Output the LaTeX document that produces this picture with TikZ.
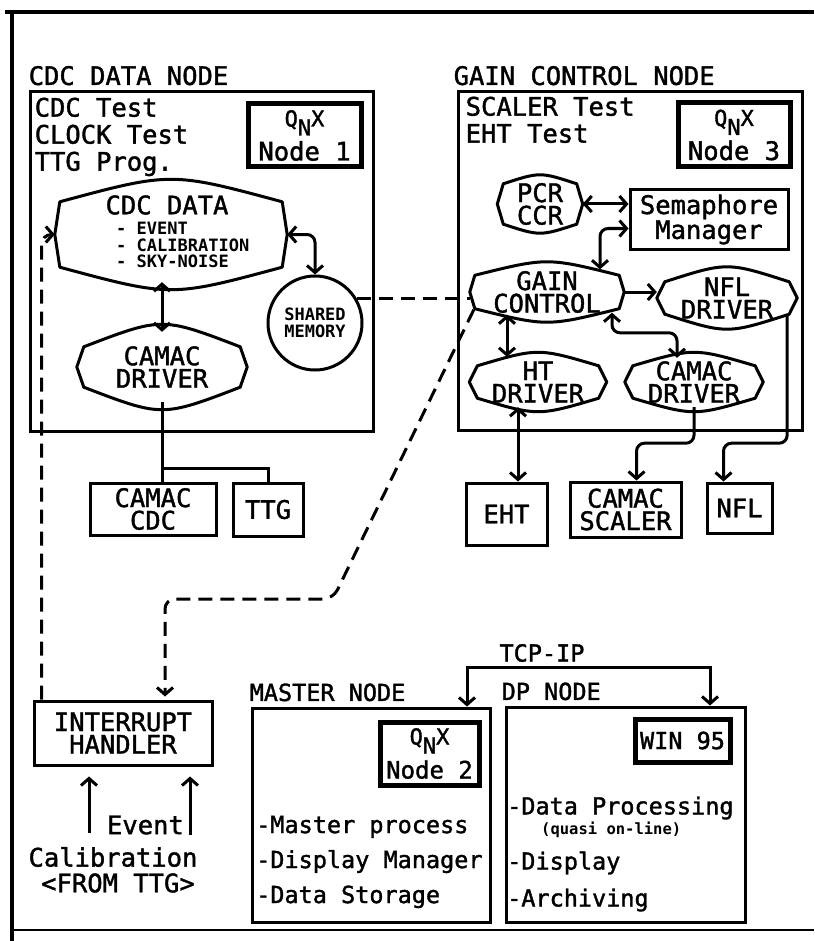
\documentclass[tikz,border=0pt]{standalone}
\usepackage{fontspec}
\newfontfamily\plotfont[FakeBold=1.5]{DejaVu Sans Mono}
\newfontfamily\plotbold{DejaVu Sans Mono Bold}
\usetikzlibrary{positioning,arrows.meta,calc}

\newcommand{\bigtxt}{\plotfont\fontsize{25.5}{27}\selectfont}
\newcommand{\drvtxt}{\plotfont\fontsize{25.5}{22.5}\selectfont}
\newcommand{\lsttxt}{\plotfont\fontsize{23.5}{35}\selectfont}
\newcommand{\tinytxt}{\plotbold\fontsize{17}{16.5}\selectfont}
\newcommand{\qnxtxt}{\plotfont\fontsize{25.5}{28}\selectfont}
\newcommand{\qnx}[1]{{\fontsize{22}{22}\selectfont Q\smash{\raisebox{-9pt}{N}}X}\\[6pt]Node #1}
% outline of a driver/process node: name, sag of top/bottom, side inset
\newcommand{\drvline}[3]{%
  \draw[outl] ($(#1.north west)+(#3,#2)$) .. controls ($(#1.north)+(0,-#2)$) .. ($(#1.north east)+(-#3,#2)$)
    -- (#1.east) -- ($(#1.south east)+(-#3,-#2)$)
    .. controls ($(#1.south)+(0,#2)$) .. ($(#1.south west)+(#3,-#2)$)
    -- (#1.west) -- cycle;}

\tikzset{
  box/.style    = {draw, line width=3pt, align=center, inner sep=0pt, font=\drvtxt},
  osbox/.style  = {draw, line width=5pt, align=center, inner sep=0pt, font=\qnxtxt},
  area/.style   = {draw, line width=3pt, inner sep=0pt},
  drv/.style    = {align=center, inner sep=0pt, font=\drvtxt},
  ttl/.style    = {inner sep=0pt, font=\bigtxt},
  lst/.style    = {anchor=west, align=left, inner sep=0pt},
  outl/.style   = {line width=3pt, line join=round},
  link/.style   = {line width=3pt},
  dlink/.style  = {link, {Straight Barb[length=7pt,width=16pt]}-{Straight Barb[length=7pt,width=16pt]}},
  slink/.style  = {link, -{Straight Barb[length=7pt,width=16pt]}},
  dsh/.style    = {link, dash pattern=on 14pt off 8pt},
  framebar/.style = {line width=4.5pt},
}

\begin{document}
\begin{tikzpicture}[x=1pt,y=-1pt]
  \useasboundingbox (0,0) rectangle (814,941);
  \fill[white] (0,0) rectangle (814,941);

  % outer frame
  \draw[framebar] (5,12) -- (814,12);
  \draw[framebar] (12,12) -- (12,941);
  \draw[line width=2pt] (12,930) -- (814,930);

  % CDC data node
  \node[area, minimum width=343pt, minimum height=339pt] (cdcnode) at (201.5,261.5) {};
  \node[ttl, above right=5pt and 0pt of cdcnode.north west] (cdcttl) {CDC DATA NODE};
  \node[lst, font=\bigtxt, below right=7pt and 6pt of cdcnode.north west] (cdctests) {CDC Test\\CLOCK Test\\TTG Prog.};
  \node[osbox, minimum width=113pt, minimum height=63pt] (qnx1) at (304.5,135.5) {\qnx{1}};
  \node[drv, minimum width=232pt, minimum height=95pt] (cdcdata) at (171,234.5) {};
  \node[ttl] (cdcdatattl) at (167,205) {CDC DATA};
  \node[lst, font=\tinytxt] (cdcevents) at (116,245) {- EVENT\\- CALIBRATION\\- SKY-NOISE};
  \node[drv, minimum width=170pt, minimum height=70pt] (cdrv) at (162,367) {CAMAC\\DRIVER};
  \node[circle, draw, line width=3pt, minimum size=94pt, inner sep=0pt, align=center,
        font=\tinytxt] (shm) at (315,323) {SHARED\\MEMORY};

  % gain control node
  \node[area, minimum width=344pt, minimum height=338pt] (gainnode) at (630,261) {};
  \node[ttl, above right=5pt and -3pt of gainnode.north west] (gainttl) {GAIN CONTROL NODE};
  \node[lst, font=\bigtxt, below right=6pt and 9pt of gainnode.north west] (gaintests) {SCALER Test\\EHT Test};
  \node[osbox, minimum width=112pt, minimum height=64pt] (qnx3) at (734,135) {\qnx{3}};
  \node[drv, minimum width=85pt, minimum height=52pt] (pcr) at (540,204) {PCR\\CCR};
  \node[box, minimum width=158pt, minimum height=59pt] (sem) at (709,219.5) {Semaphore\\Manager};
  \node[drv, minimum width=154pt, minimum height=51pt] (gain) at (547,292) {GAIN\\CONTROL};
  \node[drv, minimum width=140pt, minimum height=52pt] (nfldrv) at (727,298) {NFL\\DRIVER};
  \node[drv, minimum width=137pt, minimum height=50pt] (htdrv) at (538,382) {HT\\DRIVER};
  \node[drv, minimum width=138pt, minimum height=50pt] (gdrv) at (694,382) {CAMAC\\DRIVER};

  \foreach \n/\s/\e in {cdcdata/15/5, cdrv/15/7, pcr/6/6, gain/9/5, nfldrv/10/8, htdrv/9/8, gdrv/9/8}
    \drvline{\n}{\s}{\e};

  % hardware
  \node[box, minimum width=126pt, minimum height=52pt] (ccdc) at (153,509) {CAMAC\\CDC};
  \node[box, minimum width=70pt, minimum height=53pt] (ttg) at (268,509.5) {TTG};
  \node[box, minimum width=81pt, minimum height=62pt] (eht) at (506.5,514) {EHT};
  \node[box, minimum width=111pt, minimum height=55pt] (csc) at (625.5,509.5) {CAMAC\\SCALER};
  \node[box, minimum width=65pt, minimum height=50pt] (nfl) at (739.5,508) {NFL};

  % interrupt handler
  \node[box, minimum width=178pt, minimum height=64pt] (ih) at (123,733) {INTERRUPT\\HANDLER};
  \node[ttl, anchor=east] (evt) at (184,825) {Event};
  \node[ttl] (calib) at (113,857) {Calibration};
  \node[ttl] (fromttg) at (118,883) {<FROM TTG>};

  % master and dp nodes
  \node[area, minimum width=238pt, minimum height=214pt] (master) at (371,815) {};
  \node[ttl, font=\lsttxt, above right=5pt and -1pt of master.north west] (masterttl) {MASTER NODE};
  \node[osbox, minimum width=99pt, minimum height=63pt, font=\plotfont\fontsize{24}{28}\selectfont] (qnx2) at (429.5,753.5) {\qnx{2}};
  \node[lst, font=\lsttxt] (masterlst) at (256,862) {-Master process\\-Display Manager\\-Data Storage};

  \node[area, minimum width=239pt, minimum height=215pt] (dp) at (625.5,814.5) {};
  \node[ttl, font=\lsttxt, above right=5pt and -3pt of dp.north west] (dpttl) {DP NODE};
  \node[osbox, minimum width=95pt, minimum height=43pt, font=\lsttxt] (win) at (682.5,740.5) {WIN 95};
  \node[lst, font=\lsttxt] (dpproc) at (507,808) {-Data Processing};
  \node[lst, font=\plotbold\fontsize{15.5}{16}\selectfont] (dpquasi) at (541,830) {(quasi on-line)};
  \node[lst, font=\lsttxt] (dpdisp) at (507,863) {-Display};
  \node[lst, font=\lsttxt] (dparch) at (507,900) {-Archiving};
  \node[ttl, font=\lsttxt] (tcp) at (542,653) {TCP-IP};

  % links inside the CDC data node
  \draw[dlink] (cdrv.north |- cdcdata.south) -- (cdrv.north);
  \draw[dlink, rounded corners=8pt] (cdcdata.east) -| (shm.north);
  \coordinate (junc) at ($(cdrv.south)+(0,66)$);
  \draw[link] (cdrv.south) -- (cdrv.south |- ccdc.north);
  \draw[link] (junc) -| (ttg.north);

  % links inside the gain control node
  \draw[dlink] (pcr.east) -- (pcr.east -| sem.west);
  \draw[dlink, rounded corners=8pt] ($(sem.south west)+(0,-22)$) -| ($(gain.north)+(53,3)$);
  \draw[slink] (gain.east) -- (gain.east -| nfldrv.west);
  \coordinate (gh) at ($(gain.south)+(-40,-3)$);
  \draw[dlink] (gh) -- (gh |- htdrv.north);
  \draw[dlink, rounded corners=8pt] ($(gain.south)+(65,-5)$) |- ($(gdrv.north)+(-17,-24)$) -- ($(gdrv.north)+(-17,1)$);
  \coordinate (hte) at ($(htdrv.south)+(-20,0)$);
  \draw[dlink] (hte) -- (hte |- eht.north);
  \draw[slink, rounded corners=8pt] (gdrv.south) -- ++(0,36) -| ($(csc.north)+(11,0)$);
  \draw[slink, rounded corners=8pt] ($(nfldrv.south east)+(-10,-8)$) -- ++(0,127) -| ($(nfl.north)+(-16,0)$);

  % dashed paths between nodes
  \draw[dsh] (shm.30) -- (shm.30 -| gain.west);
  \draw[dsh, -{Straight Barb[length=7pt,width=16pt]}, rounded corners=10pt]
    ($(ih.north west)+(9,0)$) |- (cdcdata.west);
  \coordinate (dbend) at (333,599);
  \coordinate (ihin) at ($(ih.north)+(42,0)$);
  \draw[dsh, -{Straight Barb[length=7pt,width=16pt]}, rounded corners=10pt, shorten >=3pt]
    ($(gain.south west)+(4,-8)$) -- (dbend) -| (ihin);

  % trigger inputs
  \coordinate (calup) at (89,833);
  \coordinate (evup) at (190,835);
  \draw[slink, shorten >=10pt] (calup) -- (calup |- ih.south);
  \draw[slink, shorten >=10pt] (evup) -- (evup |- ih.south);

  % TCP-IP
  \coordinate (tcpl) at (467,667);
  \coordinate (tcpr) at (710,667);
  \draw[dlink] (tcpl |- master.north) -- (tcpl) -- (tcpr) -- (tcpr |- dp.north);
\end{tikzpicture}
\end{document}
